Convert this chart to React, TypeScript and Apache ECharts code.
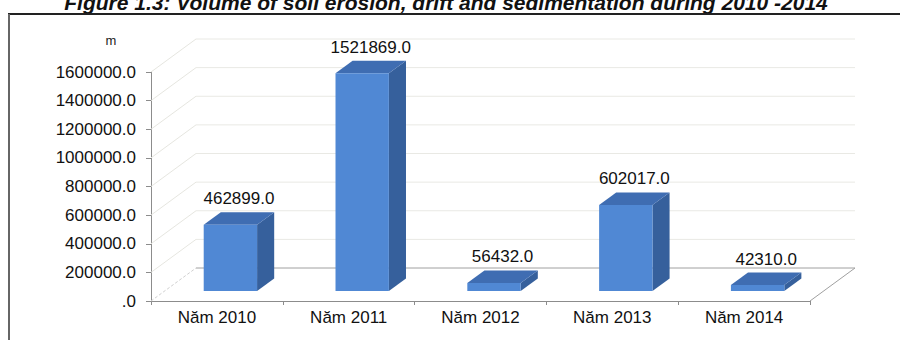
import React, { useEffect, useRef } from "react";
import * as echarts from "echarts";

const titleText = "Figure 1.3: Volume of soil erosion, drift and sedimentation during 2010 -2014";
const unitLabel = "m";
const categories = ["Năm 2010", "Năm 2011", "Năm 2012", "Năm 2013", "Năm 2014"];
const values = [462899.0, 1521869.0, 56432.0, 602017.0, 42310.0];
const yTicks = [0, 200000, 400000, 600000, 800000, 1000000, 1200000, 1400000, 1600000];

const FONT = "'Liberation Sans', Arial, sans-serif";
const DX = 45;
const DY = -33;
const F1 = 0.3;
const F2 = 0.68;
const FRONT = "#5088d4";
const SIDE = "#36609c";
const TOP = "#3f6db2";

function fmt(v: number) {
  return v === 0 ? ".0" : v.toFixed(1);
}

export default function App() {
  const ref = useRef<HTMLDivElement>(null);
  useEffect(() => {
    if (!ref.current) return;
    const chart = echarts.init(ref.current, null, { renderer: "svg" });
    chart.setOption({
      animation: false,
      backgroundColor: "#ffffff",
      grid: { left: 151, right: 90, top: 72, bottom: 39 },
      xAxis: {
        type: "category",
        data: categories,
        boundaryGap: true,
        axisLine: { show: true, lineStyle: { color: "#8c8c8c", width: 1 } },
        axisTick: { show: true, length: 4, lineStyle: { color: "#8c8c8c" } },
        axisLabel: { fontSize: 17, color: "#111", margin: 8, fontFamily: FONT },
        splitLine: { show: false },
      },
      yAxis: {
        type: "value",
        min: 0,
        max: 1600000,
        interval: 200000,
        axisLine: { show: true, lineStyle: { color: "#8c8c8c", width: 1 } },
        axisTick: { show: true, length: 5, lineStyle: { color: "#8c8c8c" } },
        axisLabel: { fontSize: 17, color: "#111", margin: 15, fontFamily: FONT, formatter: (v: number) => fmt(v) },
        splitLine: { show: false },
      },
      graphic: [
        {
          type: "text",
          x: 446,
          y: 2,
          style: {
            text: titleText,
            fontSize: 21,
            fontWeight: "bold",
            fontStyle: "italic",
            fontFamily: FONT,
            fill: "#111",
            align: "center",
            verticalAlign: "middle",
          },
        },
        { type: "line", shape: { x1: 8, y1: 14, x2: 900, y2: 14 }, style: { stroke: "#222", lineWidth: 2 } },
        { type: "line", shape: { x1: 9, y1: 14, x2: 9, y2: 340 }, style: { stroke: "#666", lineWidth: 2 } },
        {
          type: "text",
          x: 111,
          y: 40,
          style: { text: unitLabel, fontSize: 13, fontFamily: FONT, fill: "#222", align: "center", verticalAlign: "middle" },
        },
      ],
      series: [
        {
          type: "custom",
          name: "walls",
          clip: false,
          silent: true,
          z: 1,
          data: yTicks.map((v) => [0, v]),
          encode: { x: 0, y: 1 },
          renderItem: (params: any, api: any) => {
            const cs = params.coordSys;
            const v = api.value(1);
            const y = api.coord([0, v])[1];
            const left = cs.x;
            const right = cs.x + cs.width;
            const children: any[] = [
              {
                type: "line",
                shape: { x1: left + DX, y1: y + DY, x2: right + DX, y2: y + DY },
                style: { stroke: v === 0 ? "#a0a0a0" : "#e9e9e4", lineWidth: 1 },
              },
              {
                type: "line",
                shape: { x1: left, y1: y, x2: left + DX, y2: y + DY },
                style: { stroke: v === 0 ? "#d0d0d0" : "#e6e6e0", lineWidth: 1, lineDash: v === 0 ? [3, 2] : null },
              },
            ];
            if (v === 0) {
              children.push({
                type: "line",
                shape: { x1: right, y1: y, x2: right + DX, y2: y + DY },
                style: { stroke: "#a0a0a0", lineWidth: 1 },
              });
            }
            return { type: "group", children };
          },
        },
        {
          type: "custom",
          name: "bars",
          clip: false,
          z: 2,
          data: values.map((v, i) => [i, v]),
          encode: { x: 0, y: 1 },
          renderItem: (params: any, api: any) => {
            const idx = api.value(0);
            const v = api.value(1);
            const base = api.coord([idx, 0]);
            const top = api.coord([idx, v]);
            const bw = api.size([1, 0])[0] * 0.405;
            const fx = base[0] - bw / 2 + F1 * DX;
            const fy0 = base[1] + F1 * DY;
            const fy1 = top[1] + F1 * DY;
            const ddx = (F2 - F1) * DX;
            const ddy = (F2 - F1) * DY;
            return {
              type: "group",
              children: [
                {
                  type: "polygon",
                  shape: { points: [[fx + bw, fy1], [fx + bw + ddx, fy1 + ddy], [fx + bw + ddx, fy0 + ddy], [fx + bw, fy0]] },
                  style: { fill: SIDE },
                },
                {
                  type: "polygon",
                  shape: { points: [[fx, fy1], [fx + ddx, fy1 + ddy], [fx + bw + ddx, fy1 + ddy], [fx + bw, fy1]] },
                  style: { fill: TOP },
                },
                {
                  type: "rect",
                  shape: { x: fx, y: fy1, width: bw, height: fy0 - fy1 },
                  style: { fill: FRONT },
                },
                {
                  type: "text",
                  style: {
                    text: fmt(v),
                    x: fx + bw / 2 + ddx / 2,
                    y: fy1 + ddy - 5,
                    align: "center",
                    verticalAlign: "bottom",
                    fontSize: 17,
                    fontFamily: FONT,
                    fill: "#111",
                  },
                },
              ],
            };
          },
        },
      ],
    });
    return () => chart.dispose();
  }, []);
  return <div ref={ref} style={{ position: "fixed", left: 0, top: 0, width: 900, height: 340 }} />;
}
